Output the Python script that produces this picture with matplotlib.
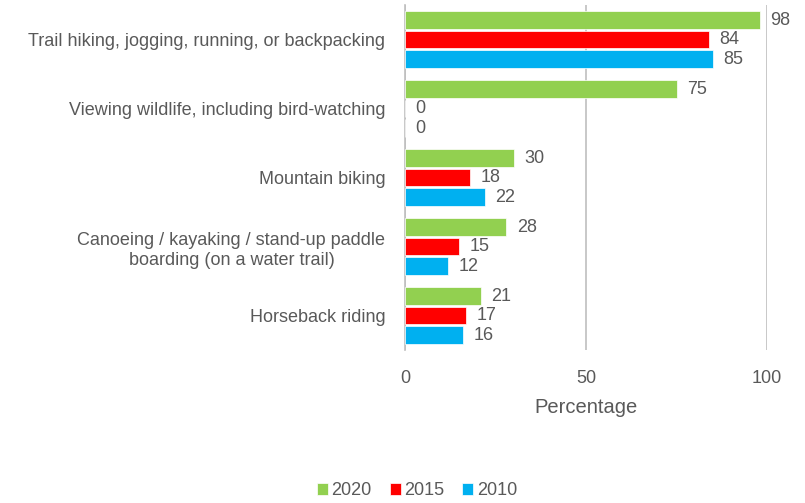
import numpy as np
import matplotlib
matplotlib.use("Agg")
import matplotlib.pyplot as plt

plt.rcParams["font.family"] = ["Liberation Sans", "DejaVu Sans"]

# Data
activities = [
    "Trail hiking, jogging, running, or backpacking",
    "Viewing wildlife, including bird-watching",
    "Mountain biking",
    "Canoeing / kayaking / stand-up paddle\nboarding (on a water trail)",
    "Horseback riding",
]
years = ["2020", "2015", "2010"]
values_2020 = [98, 75, 30, 28, 21]
values_2015 = [84, 0, 18, 15, 17]
values_2010 = [85, 0, 22, 12, 16]
colors = ["#92D050", "#FF0000", "#00B0F0"]

text_color = "#595959"
grid_color = "#BFBFBF"

fig = plt.figure(figsize=(8.05, 5.03), dpi=100)
ax = fig.add_axes([0.503, 0.304, 0.450, 0.686])

y = np.arange(len(activities))
step = 0.283
height = 0.25
series = [values_2020, values_2015, values_2010]

for i, (vals, col, yr) in enumerate(zip(series, colors, years)):
    pos = y + (i - 1) * step
    ax.barh(pos, vals, height=height, color=col, label=yr,
            edgecolor="white", linewidth=0.5, zorder=3)
    for p, v in zip(pos, vals):
        ax.text(v + 2.9, p, str(v), va="center", ha="left",
                fontsize=13, color=text_color, clip_on=False)

ax.set_xlim(0, 100)
ax.set_ylim(len(activities) - 0.5, -0.5)
ax.set_xticks([0, 50, 100])
ax.set_yticks(y)
ax.set_yticklabels(activities, fontsize=13, color=text_color,
                   multialignment="center", linespacing=1.3)
ax.tick_params(axis="x", labelsize=13, colors=text_color, length=0, pad=14)
ax.tick_params(axis="y", length=0, pad=14)

ax.xaxis.grid(True, color=grid_color, linewidth=1.2, zorder=0)
for s in ["top", "right", "bottom"]:
    ax.spines[s].set_visible(False)
ax.spines["left"].set_color(grid_color)
ax.spines["left"].set_linewidth(1.2)

ax.set_xlabel("Percentage", fontsize=14.5, color=text_color, labelpad=8)

fig.legend(loc="lower center", bbox_to_anchor=(0.518, -0.025), ncol=3,
           frameon=False, fontsize=13, labelcolor=text_color,
           handlelength=0.6, handleheight=0.6, handletextpad=0.2,
           columnspacing=1.0)

fig.savefig("out.png", dpi=100)
